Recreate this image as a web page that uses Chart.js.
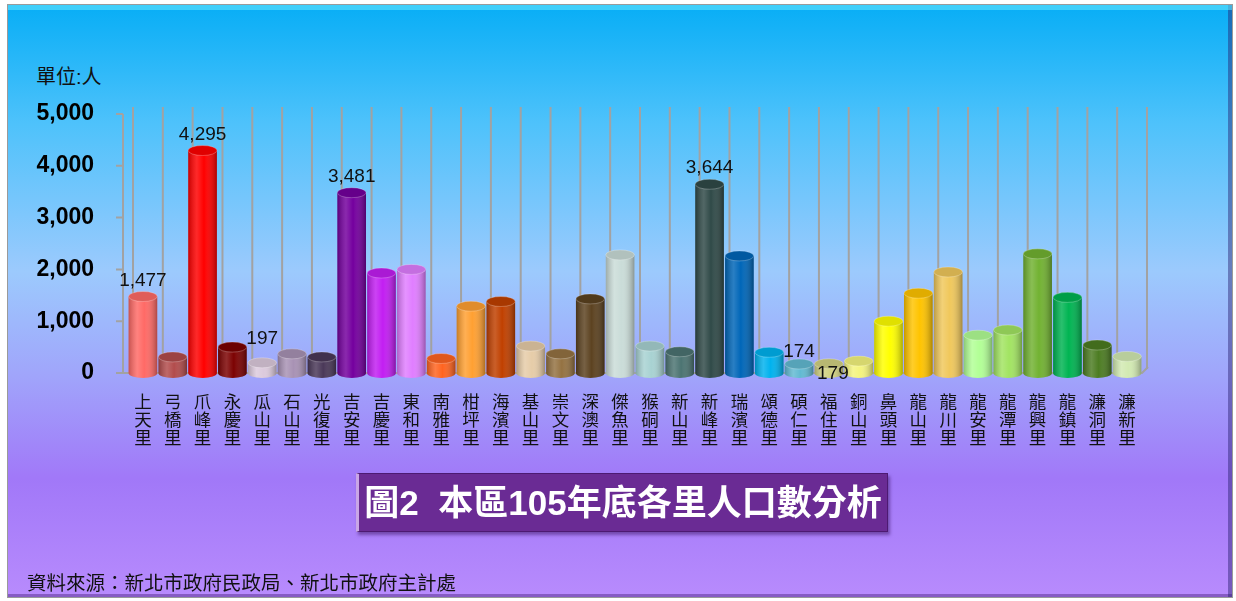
<!DOCTYPE html>
<html>
<head>
<meta charset="utf-8">
<script src="https://cdn.jsdelivr.net/npm/chart.js@4/dist/chart.umd.min.js"></script>
<style>
  body { margin: 0; width: 1236px; height: 601px; background: #fff; overflow: hidden; position: relative;
    font-family: "Liberation Sans", "Noto Sans CJK TC", sans-serif; }
  .frame { position: absolute; left: 7px; top: 4px; width: 1226px; height: 594px; box-sizing: border-box;
    border: 1px solid #9a9a9a;
    background: linear-gradient(to bottom, #08aef6 0%, #4ec2fb 20%, #9ccafd 45%, #a0a6fb 62%, #a178f8 80%, #b88bfd 100%);
    box-shadow: inset 0 5px 0 rgba(110, 235, 255, 0.55), inset -4px 0 0 rgba(40, 30, 110, 0.45), inset 0 -3px 0 rgba(60, 20, 110, 0.4); }
  #wrap { position: absolute; left: 0; top: 0; width: 1236px; height: 601px; }
  .unit { position: absolute; left: 36px; top: 61px; font-size: 20px; color: #111; }
  .title { position: absolute; left: 356px; top: 473px; width: 532px; height: 59px; box-sizing: border-box;
    background: #6a2b94; border: 1px solid #4d1a72; border-left: 3px solid #c9a6e6;
    box-shadow: 2px 3px 3px rgba(60, 20, 100, 0.5);
    color: #fff; font-weight: bold; font-size: 35px; line-height: 57px; text-align: center; white-space: pre; }
  .source { position: absolute; left: 27px; top: 567px; font-size: 19.5px; color: #111; }
</style>
</head>
<body>
<div class="frame"></div>
<div class="unit">單位:人</div>
<div id="wrap"><canvas id="popChart" width="1236" height="601"></canvas></div>
<div class="title">圖2  本區105年底各里人口數分析</div>
<div class="source">資料來源：新北市政府民政局、新北市政府主計處</div>
<script>
// 里名
const names = ['上天里', '弓橋里', '爪峰里', '永慶里', '瓜山里', '石山里', '光復里', '吉安里', '吉慶里', '東和里',
  '南雅里', '柑坪里', '海濱里', '基山里', '崇文里', '深澳里', '傑魚里', '猴硐里', '新山里', '新峰里',
  '瑞濱里', '頌德里', '碩仁里', '福住里', '銅山里', '鼻頭里', '龍山里', '龍川里', '龍安里', '龍潭里',
  '龍興里', '龍鎮里', '濂洞里', '濂新里'];

// 人口數 (labelled values are exact, others)
const population = [1477, 310, 4295, 500, 197, 370, 310, 3481, 1930, 2000,
  280, 1290, 1380, 520, 370, 1430, 2280, 520, 410, 3644,
  2260, 400, 174, 179, 230, 1000, 1540, 1950, 730, 830,
  2300, 1460, 540, 320];

// which bars show a value label
const labelled = ['上天里', '爪峰里', '瓜山里', '吉安里', '新峰里', '碩仁里', '福住里'];

const yTicks = [0, 1000, 2000, 3000, 4000, 5000];

const barColors = ['#ff6a66', '#b24c4c', '#ff0000', '#7c0202', '#dccadc', '#a892b4', '#4a3858', '#74009e', '#c21ef2', '#e07eff',
  '#ff6420', '#ffa032', '#c04000', '#e6cca8', '#947242', '#5c4220', '#cadcd8', '#a8d2d2', '#4c7472', '#304a48',
  '#0066b8', '#00b2ee', '#62bad2', '#d2d282', '#f4f47e', '#ffff00', '#ffc400', '#f0c85c', '#b2ff96', '#a2e462',
  '#72b232', '#00b452', '#4c7c22', '#d2eab2'];

const fontFamily = '"Liberation Sans", "Noto Sans CJK TC", sans-serif';

// back wall grid lines, floor and y axis, drawn behind the bars
const backGrid = {
  id: 'backGrid',
  beforeDatasetsDraw(chart) {
    const { ctx, chartArea: a, scales: { y } } = chart;
    const step = (a.right - a.left) / names.length;
    ctx.save();
    ctx.strokeStyle = '#a2a2a2';
    ctx.lineWidth = 2;
    for (let i = 0; i <= names.length; i++) {
      const gx = a.left + i * step + 5;
      ctx.beginPath();
      ctx.moveTo(gx, a.top - 7);
      ctx.lineTo(gx, a.bottom - 4);
      ctx.stroke();
    }
    // floor
    ctx.beginPath();
    ctx.moveTo(a.left - 11, a.bottom);
    ctx.lineTo(a.right, a.bottom);
    ctx.lineTo(a.right + 6, a.bottom - 6);
    ctx.stroke();
    // y axis + ticks
    ctx.beginPath();
    ctx.moveTo(a.left - 5, a.top);
    ctx.lineTo(a.left - 5, a.bottom);
    yTicks.forEach(v => {
      const ty = y.getPixelForValue(v);
      ctx.moveTo(a.left - 12, ty);
      ctx.lineTo(a.left - 5, ty);
    });
    ctx.stroke();
    ctx.restore();
  }
};

// cylinder look: shading, rounded bottom and top cap
const cylinders = {
  id: 'cylinders',
  afterDatasetsDraw(chart) {
    const ctx = chart.ctx;
    const meta = chart.getDatasetMeta(0);
    meta.data.forEach((bar, i) => {
      const x = bar.x, top = bar.y, base = bar.base;
      const rx = bar.width / 2, ry = 5;
      const col = barColors[i];
      ctx.save();
      ctx.fillStyle = col;
      ctx.beginPath();
      ctx.ellipse(x, base, rx, ry, 0, 0, Math.PI);
      ctx.fill();

      const g = ctx.createLinearGradient(x - rx, 0, x + rx, 0);
      g.addColorStop(0, 'rgba(0,0,0,0.22)');
      g.addColorStop(0.3, 'rgba(255,255,255,0.16)');
      g.addColorStop(0.55, 'rgba(255,255,255,0)');
      g.addColorStop(1, 'rgba(0,0,0,0.32)');
      ctx.fillStyle = g;
      ctx.beginPath();
      ctx.moveTo(x - rx, top);
      ctx.lineTo(x - rx, base);
      ctx.ellipse(x, base, rx, ry, 0, Math.PI, 0, true);
      ctx.lineTo(x + rx, top);
      ctx.closePath();
      ctx.fill();

      // top cap
      ctx.beginPath();
      ctx.ellipse(x, top, rx, ry, 0, 0, Math.PI * 2);
      ctx.fillStyle = col;
      ctx.fill();
      ctx.fillStyle = 'rgba(0,0,0,0.12)';
      ctx.fill();
      ctx.strokeStyle = 'rgba(255,255,255,0.25)';
      ctx.lineWidth = 1;
      ctx.stroke();
      ctx.restore();
    });
  }
};

// value labels for a few bars
const valueLabels = {
  id: 'valueLabels',
  afterDatasetsDraw(chart) {
    const ctx = chart.ctx;
    const meta = chart.getDatasetMeta(0);
    const shift = { '瓜山里': -8, '碩仁里': 4, '福住里': 26 };
    ctx.save();
    ctx.font = '19px ' + fontFamily;
    ctx.fillStyle = '#111';
    ctx.textAlign = 'center';
    ctx.textBaseline = 'middle';
    names.forEach((n, i) => {
      if (!labelled.includes(n)) return;
      const bar = meta.data[i];
      const dy = -16 + (shift[n] || 0);
      ctx.fillText(population[i].toLocaleString('en-US'), bar.x + (n === '福住里' ? 4 : 0), bar.y + dy);
    });
    ctx.restore();
  }
};

new Chart(document.getElementById('popChart'), {
  type: 'bar',
  data: {
    labels: names.map(n => n.split('')),
    datasets: [{
      data: population,
      backgroundColor: barColors,
      borderWidth: 0,
      barPercentage: 0.96,
      categoryPercentage: 1
    }]
  },
  options: {
    responsive: false,
    animation: false,
    layout: { padding: { top: 114, left: 0, right: 94, bottom: 148 } },
    plugins: { legend: { display: false }, tooltip: { enabled: false } },
    scales: {
      x: {
        grid: { display: false },
        border: { display: false },
        ticks: {
          autoSkip: false, maxRotation: 0, padding: 13, color: '#111',
          font: { family: fontFamily, size: 17.5, lineHeight: 1.03 }
        },
        afterFit(scale) { scale.height = 80; }
      },
      y: {
        min: 0, max: 5000,
        grid: { display: false },
        border: { display: false },
        afterBuildTicks(scale) { scale.ticks = yTicks.map(v => ({ value: v })); },
        ticks: {
          padding: 26, color: '#000',
          font: { family: fontFamily, size: 23, weight: 'bold' },
          callback: v => v.toLocaleString('en-US')
        },
        afterFit(scale) { scale.width = 128; }
      }
    }
  },
  plugins: [backGrid, cylinders, valueLabels]
});
</script>
</body>
</html>
